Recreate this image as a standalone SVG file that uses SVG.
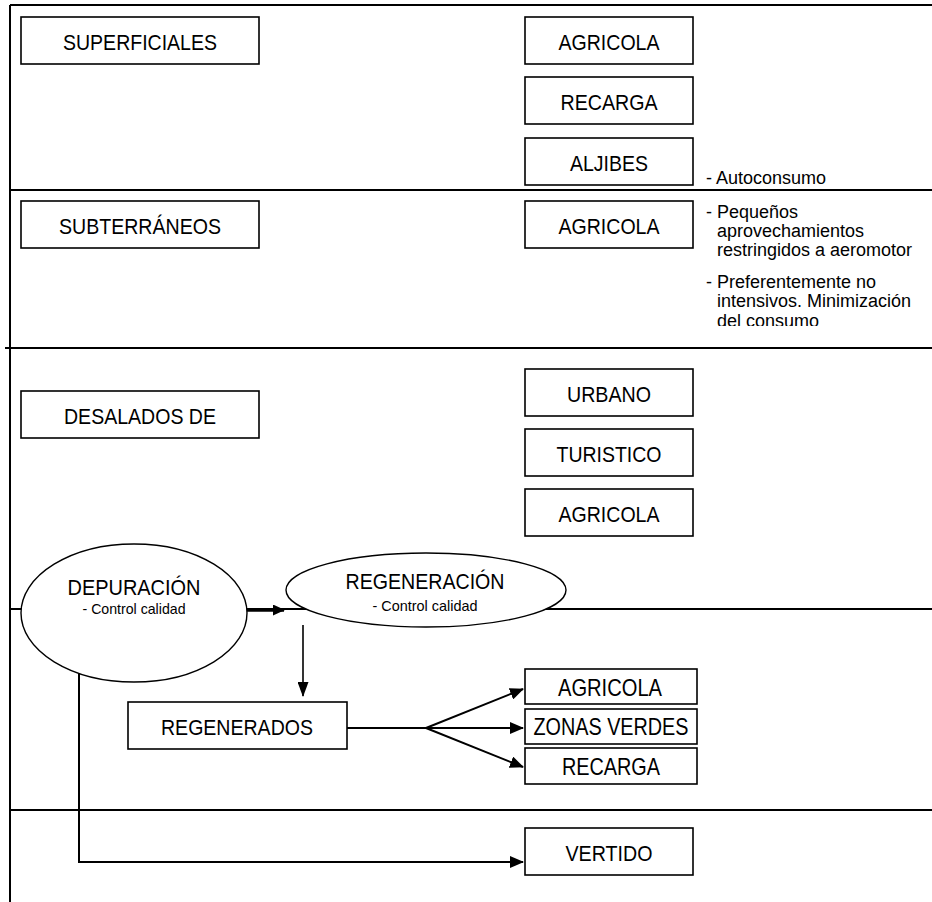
<svg xmlns="http://www.w3.org/2000/svg" width="932" height="902" viewBox="0 0 932 902">
<style>
  .frame { fill: none; stroke: #000; stroke-width: 2; }
  .box { fill: #fff; stroke: #000; stroke-width: 1.6; }
  .ell { fill: #fff; stroke: #000; stroke-width: 1.4; }
  .lbl { font-family: "Liberation Sans", Arial, sans-serif; font-size: 22.5px; text-anchor: middle; fill: #000; }
  .lbl2 { font-family: "Liberation Sans", Arial, sans-serif; font-size: 24px; text-anchor: middle; fill: #000; }
  .sub { font-family: "Liberation Sans", Arial, sans-serif; font-size: 15px; text-anchor: middle; fill: #000; }
  .note { font-family: "Liberation Sans", Arial, sans-serif; font-size: 18px; fill: #000; }
  .conn { fill: none; stroke: #000; stroke-width: 2; }
</style>
<defs>
  <marker id="arr" markerUnits="userSpaceOnUse" markerWidth="14" markerHeight="12" refX="13" refY="6" orient="auto">
    <path d="M0,0 L14,6 L0,12 z" fill="#000"/>
  </marker>
  <marker id="arrThick" markerUnits="userSpaceOnUse" markerWidth="12" markerHeight="11" refX="11" refY="5.5" orient="auto">
    <path d="M0,0 L12,5.5 L0,11 z" fill="#000"/>
  </marker>
  <marker id="arrDown" markerUnits="userSpaceOnUse" markerWidth="15" markerHeight="11" refX="14" refY="5.5" orient="auto">
    <path d="M0,0 L15,5.5 L0,11 z" fill="#000"/>
  </marker>
  <clipPath id="noteClip">
    <rect x="690" y="195" width="242" height="131"/>
  </clipPath>
</defs>

<g id="frame">
  <path class="frame" d="M10,5 H932"/>
  <path class="frame" d="M10,5 V902"/>
  <path class="frame" d="M10,190 H932"/>
  <path class="frame" d="M5,348 H932"/>
  <path class="frame" d="M10,609 H932"/>
  <path class="frame" d="M10,810 H932"/>
</g>

<g id="node-superficiales">
  <rect class="box" x="21" y="17" width="238" height="47"/>
  <text class="lbl" x="140" y="50" textLength="154" lengthAdjust="spacingAndGlyphs">SUPERFICIALES</text>
</g>
<g id="node-agricola-1">
  <rect class="box" x="525" y="17" width="168" height="47"/>
  <text class="lbl" x="609" y="50" textLength="101" lengthAdjust="spacingAndGlyphs">AGRICOLA</text>
</g>
<g id="node-recarga-1">
  <rect class="box" x="525" y="77" width="168" height="47"/>
  <text class="lbl" x="609" y="110" textLength="97" lengthAdjust="spacingAndGlyphs">RECARGA</text>
</g>
<g id="node-aljibes">
  <rect class="box" x="525" y="138" width="168" height="47"/>
  <text class="lbl" x="609" y="171" textLength="78" lengthAdjust="spacingAndGlyphs">ALJIBES</text>
</g>
<g id="note-autoconsumo">
  <text class="note" x="706" y="184">- Autoconsumo</text>
</g>

<g id="node-subterraneos">
  <rect class="box" x="21" y="201" width="238" height="47"/>
  <text class="lbl" x="140" y="234" textLength="162" lengthAdjust="spacingAndGlyphs">SUBTERRÁNEOS</text>
</g>
<g id="node-agricola-2">
  <rect class="box" x="525" y="201" width="168" height="47"/>
  <text class="lbl" x="609" y="234" textLength="101" lengthAdjust="spacingAndGlyphs">AGRICOLA</text>
</g>
<g id="note-subterraneos" clip-path="url(#noteClip)">
  <text class="note" x="706" y="218">- Pequeños</text>
  <text class="note" x="717" y="237">aprovechamientos</text>
  <text class="note" x="717" y="256">restringidos a aeromotor</text>
  <text class="note" x="706" y="288">- Preferentemente no</text>
  <text class="note" x="717" y="307">intensivos. Minimización</text>
  <text class="note" x="717" y="327">del consumo</text>
</g>

<g id="node-desalados">
  <rect class="box" x="21" y="391" width="238" height="47"/>
  <text class="lbl" x="140" y="424" textLength="152" lengthAdjust="spacingAndGlyphs">DESALADOS DE</text>
</g>
<g id="node-urbano">
  <rect class="box" x="525" y="369" width="168" height="47"/>
  <text class="lbl" x="609" y="402" textLength="84" lengthAdjust="spacingAndGlyphs">URBANO</text>
</g>
<g id="node-turistico">
  <rect class="box" x="525" y="429" width="168" height="47"/>
  <text class="lbl" x="609" y="462" textLength="105" lengthAdjust="spacingAndGlyphs">TURISTICO</text>
</g>
<g id="node-agricola-3">
  <rect class="box" x="525" y="489" width="168" height="47"/>
  <text class="lbl" x="609" y="522" textLength="101" lengthAdjust="spacingAndGlyphs">AGRICOLA</text>
</g>

<g id="node-depuracion">
  <ellipse class="ell" cx="134" cy="613" rx="113" ry="69"/>
  <text class="lbl" x="134" y="595" textLength="133" lengthAdjust="spacingAndGlyphs">DEPURACIÓN</text>
  <text class="sub" x="134" y="614" textLength="103" lengthAdjust="spacingAndGlyphs">- Control calidad</text>
</g>
<g id="node-regeneracion">
  <ellipse class="ell" cx="426" cy="590" rx="140" ry="37"/>
  <text class="lbl" x="425" y="589" textLength="159" lengthAdjust="spacingAndGlyphs">REGENERACIÓN</text>
  <text class="sub" x="425" y="611" textLength="105" lengthAdjust="spacingAndGlyphs">- Control calidad</text>
</g>

<g id="node-regenerados">
  <rect class="box" x="128" y="702" width="219" height="47"/>
  <text class="lbl" x="237" y="735" textLength="152" lengthAdjust="spacingAndGlyphs">REGENERADOS</text>
</g>
<g id="node-agricola-4">
  <rect class="box" x="525" y="669" width="172" height="35"/>
  <text class="lbl2" x="610" y="696" textLength="104" lengthAdjust="spacingAndGlyphs">AGRICOLA</text>
</g>
<g id="node-zonas-verdes">
  <rect class="box" x="525" y="709" width="172" height="35"/>
  <text class="lbl2" x="611" y="735" textLength="155" lengthAdjust="spacingAndGlyphs">ZONAS VERDES</text>
</g>
<g id="node-recarga-2">
  <rect class="box" x="525" y="748" width="172" height="36"/>
  <text class="lbl2" x="611" y="775" textLength="98" lengthAdjust="spacingAndGlyphs">RECARGA</text>
</g>
<g id="node-vertido">
  <rect class="box" x="525" y="828" width="168" height="47"/>
  <text class="lbl" x="609" y="861" textLength="87" lengthAdjust="spacingAndGlyphs">VERTIDO</text>
</g>

<g id="connectors">
  <path class="conn" style="stroke-width:3.5" d="M247,610 H284" marker-end="url(#arrThick)"/>
  <path class="conn" style="stroke-width:1.6" d="M303,625 V696" marker-end="url(#arrDown)"/>
  <path class="conn" d="M347,728 H426"/>
  <path class="conn" d="M426,728 L523,689" marker-end="url(#arr)"/>
  <path class="conn" d="M426,728 H523" marker-end="url(#arr)"/>
  <path class="conn" d="M426,728 L523,767" marker-end="url(#arr)"/>
  <path class="conn" d="M79,673 V862 H523" marker-end="url(#arr)"/>
</g>
</svg>
